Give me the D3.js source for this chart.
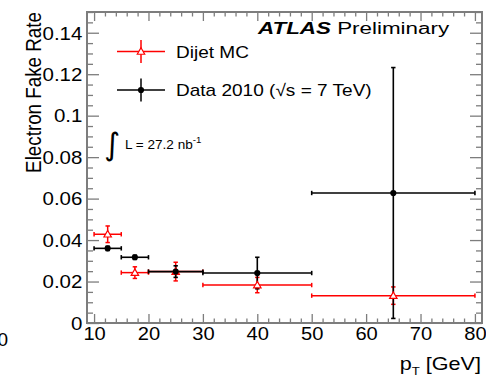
<!DOCTYPE html>
<html>
<head>
<meta charset="utf-8">
<script src="https://cdn.jsdelivr.net/npm/d3@7"></script>
<style>
  body { margin: 0; background: #fff; }
  svg { display: block; font-family: "Liberation Sans", Arial, Helvetica, sans-serif; }
</style>
</head>
<body>
<svg id="chart" width="486" height="377"></svg>
<script>
// pT bins [GeV]
const binLow = [10, 15, 20, 30, 50];
const binHigh = [15, 20, 30, 50, 80];

// Dijet MC fake rate
const mcRate = [0.0428, 0.0243, 0.0248, 0.0183, 0.0132];
const mcErr = [0.0040, 0.0028, 0.0045, 0.0037, 0.0042];

// Data 2010 fake rate
const dataRate = [0.0360, 0.0317, 0.0248, 0.0241, 0.0627];
const dataErr = [0.0010, 0.0010, 0.0028, 0.0076, 0.0605];

// axis ticks
const xMajorTicks = [10, 20, 30, 40, 50, 60, 70, 80];
const yMajorTicks = [0, 0.02, 0.04, 0.06, 0.08, 0.1, 0.12, 0.14];

const frame = { left: 87, right: 482, top: 12, bottom: 323 };
const RED = '#ff0000';
const BLACK = '#000';
const AXIS_GREY = '#7d7d7d';

const svg = d3.select('#chart');

// Scales
const x = d3.scaleLinear().domain([8.7, 81.3]).range([frame.left, frame.right]);
const y = d3.scaleLinear().domain([0, 0.15]).range([frame.bottom, frame.top]);

const xMinor = d3.range(10, 81, 2).filter(v => v % 10 !== 0);
const yMinor = d3.range(0, 0.1501, 0.005).filter(v => Math.abs(v / 0.02 - Math.round(v / 0.02)) > 1e-6);

// === Axes (ROOT style: ticks inside the frame on all four sides) ===
function styleAxis(g) {
    g.select('.domain').remove();
    g.selectAll('line').attr('stroke', AXIS_GREY).attr('stroke-width', 1.3);
}

svg.append('g')
    .attr('transform', `translate(0,${frame.bottom})`)
    .call(d3.axisBottom(x).tickValues(xMajorTicks).tickSize(-9).tickFormat(d => String(d)))
    .call(styleAxis)
    .call(g => g.selectAll('text')
        .attr('y', 17.5).attr('dy', 0)
        .attr('fill', BLACK)
        .style('font-size', '17.5px')
        .attr('transform', 'scale(1.15,1)'));

svg.append('g')
    .attr('transform', `translate(0,${frame.bottom})`)
    .call(d3.axisBottom(x).tickValues(xMinor).tickSize(-4.5).tickFormat(''))
    .call(styleAxis);

svg.append('g')
    .attr('transform', `translate(0,${frame.top})`)
    .call(d3.axisTop(x).tickValues(xMajorTicks).tickSize(-9).tickFormat(''))
    .call(styleAxis);

svg.append('g')
    .attr('transform', `translate(0,${frame.top})`)
    .call(d3.axisTop(x).tickValues(xMinor).tickSize(-4.5).tickFormat(''))
    .call(styleAxis);

svg.append('g')
    .attr('transform', `translate(${frame.left},0)`)
    .call(d3.axisLeft(y).tickValues(yMajorTicks).tickSize(-12).tickFormat(d => String(d)))
    .call(styleAxis)
    .call(g => g.selectAll('text')
        .attr('x', -4).attr('dy', '0.36em')
        .attr('fill', BLACK)
        .style('font-size', '17.5px')
        .attr('transform', 'scale(1.17,1)'));

svg.append('g')
    .attr('transform', `translate(${frame.left},0)`)
    .call(d3.axisLeft(y).tickValues(yMinor).tickSize(-6).tickFormat(''))
    .call(styleAxis);

svg.append('g')
    .attr('transform', `translate(${frame.right},0)`)
    .call(d3.axisRight(y).tickValues(yMajorTicks).tickSize(-12).tickFormat(''))
    .call(styleAxis);

svg.append('g')
    .attr('transform', `translate(${frame.right},0)`)
    .call(d3.axisRight(y).tickValues(yMinor).tickSize(-6).tickFormat(''))
    .call(styleAxis);

// Frame
svg.append('rect')
    .attr('x', frame.left)
    .attr('y', frame.top)
    .attr('width', frame.right - frame.left)
    .attr('height', frame.bottom - frame.top)
    .attr('fill', 'none')
    .attr('stroke', AXIS_GREY)
    .attr('stroke-width', 2);

// Axis titles
svg.append('text')
    .attr('transform', 'translate(40.5,12) rotate(-90) scale(1,1.22)')
    .attr('text-anchor', 'end')
    .style('font-size', '18.8px')
    .text('Electron Fake Rate');

const xTitle = svg.append('text')
    .attr('transform', 'translate(481,370) scale(1.2,1)')
    .attr('text-anchor', 'end')
    .style('font-size', '18px');
xTitle.append('tspan').text('p');
xTitle.append('tspan').attr('dy', 5).style('font-size', '11px').text('T');
xTitle.append('tspan').attr('dy', -5).text(' [GeV]');

// stray clipped label at the left edge
svg.append('text')
    .attr('x', 8).attr('y', 346)
    .attr('text-anchor', 'end')
    .style('font-size', '19px')
    .text('10');

// === Data series ===
function makeSeries(rate, err) {
    return rate.map((r, i) => ({
        lo: binLow[i],
        hi: binHigh[i],
        mid: (binLow[i] + binHigh[i]) / 2,
        val: r,
        err: err[i]
    }));
}

const mcSeries = makeSeries(mcRate, mcErr);
const dataSeries = makeSeries(dataRate, dataErr);

function drawErrors(series, color, width) {
    const g = svg.append('g')
        .attr('stroke', color)
        .attr('stroke-width', width)
        .attr('fill', 'none');
    const cap = 2.2;

    // horizontal (bin width)
    g.selectAll('.hbar').data(series).join('line')
        .attr('x1', d => x(d.lo)).attr('x2', d => x(d.hi))
        .attr('y1', d => y(d.val)).attr('y2', d => y(d.val));
    g.selectAll('.hcapL').data(series).join('line')
        .attr('x1', d => x(d.lo)).attr('x2', d => x(d.lo))
        .attr('y1', d => y(d.val) - cap).attr('y2', d => y(d.val) + cap);
    g.selectAll('.hcapR').data(series).join('line')
        .attr('x1', d => x(d.hi)).attr('x2', d => x(d.hi))
        .attr('y1', d => y(d.val) - cap).attr('y2', d => y(d.val) + cap);

    // vertical (stat error)
    g.selectAll('.vbar').data(series).join('line')
        .attr('x1', d => x(d.mid)).attr('x2', d => x(d.mid))
        .attr('y1', d => y(d.val + d.err)).attr('y2', d => y(d.val - d.err));
    g.selectAll('.vcapT').data(series).join('line')
        .attr('x1', d => x(d.mid) - cap).attr('x2', d => x(d.mid) + cap)
        .attr('y1', d => y(d.val + d.err)).attr('y2', d => y(d.val + d.err));
    g.selectAll('.vcapB').data(series).join('line')
        .attr('x1', d => x(d.mid) - cap).attr('x2', d => x(d.mid) + cap)
        .attr('y1', d => y(d.val - d.err)).attr('y2', d => y(d.val - d.err));
}

const triangle = d3.symbol().type(d3.symbolTriangle).size(24);
const dot = d3.symbol().type(d3.symbolCircle).size(30);

drawErrors(mcSeries, RED, 1.5);
drawErrors(dataSeries, BLACK, 1.6);

svg.append('g').selectAll('path').data(mcSeries).join('path')
    .attr('d', triangle)
    .attr('transform', d => `translate(${x(d.mid)},${y(d.val) + 0.6})`)
    .attr('fill', '#fff')
    .attr('stroke', RED)
    .attr('stroke-width', 1.2);

svg.append('g').selectAll('path').data(dataSeries).join('path')
    .attr('d', dot)
    .attr('transform', d => `translate(${x(d.mid)},${y(d.val)})`)
    .attr('fill', BLACK);

// === Legend ===
const legend = [
    { label: 'Dijet MC', color: RED, marker: 'tri', cy: 51.5 },
    { label: 'Data 2010 (\u221As = 7 TeV)', color: BLACK, marker: 'dot', cy: 90 }
];

const lg = svg.append('g');
legend.forEach(item => {
    const row = lg.append('g').attr('transform', `translate(141,${item.cy})`);
    row.append('line')
        .attr('x1', -24).attr('x2', 24)
        .attr('stroke', item.color).attr('stroke-width', 1.5);
    row.append('line')
        .attr('y1', -11.5).attr('y2', 11.5)
        .attr('stroke', item.color).attr('stroke-width', 1.5);
    if (item.marker === 'tri') {
        row.append('path').attr('d', triangle)
            .attr('transform', 'translate(0,0.6)')
            .attr('fill', '#fff').attr('stroke', item.color).attr('stroke-width', 1.2);
    } else {
        row.append('path').attr('d', dot).attr('fill', item.color);
    }
    row.append('text')
        .attr('transform', 'translate(35,6) scale(1.12,1)')
        .style('font-size', '17px')
        .text(item.label);
});

// Luminosity
svg.append('text')
    .attr('x', 104).attr('y', 155)
    .style('font-size', '31px')
    .style('font-family', '"DejaVu Sans", sans-serif')
    .text('\u222B');

const lumi = svg.append('text')
    .attr('transform', 'translate(125,148.5) scale(1.02,1)')
    .style('font-size', '13.3px');
lumi.append('tspan').text('L = 27.2 nb');
lumi.append('tspan').attr('dy', -6).style('font-size', '9.5px').text('-1');

// ATLAS label
const atlas = svg.append('text')
    .attr('transform', 'translate(258,34.3) scale(1.4,1)')
    .style('font-size', '16px');
atlas.append('tspan').style('font-weight', 'bold').style('font-style', 'italic').text('ATLAS');
atlas.append('tspan').text(' Preliminary');
</script>
</body>
</html>
